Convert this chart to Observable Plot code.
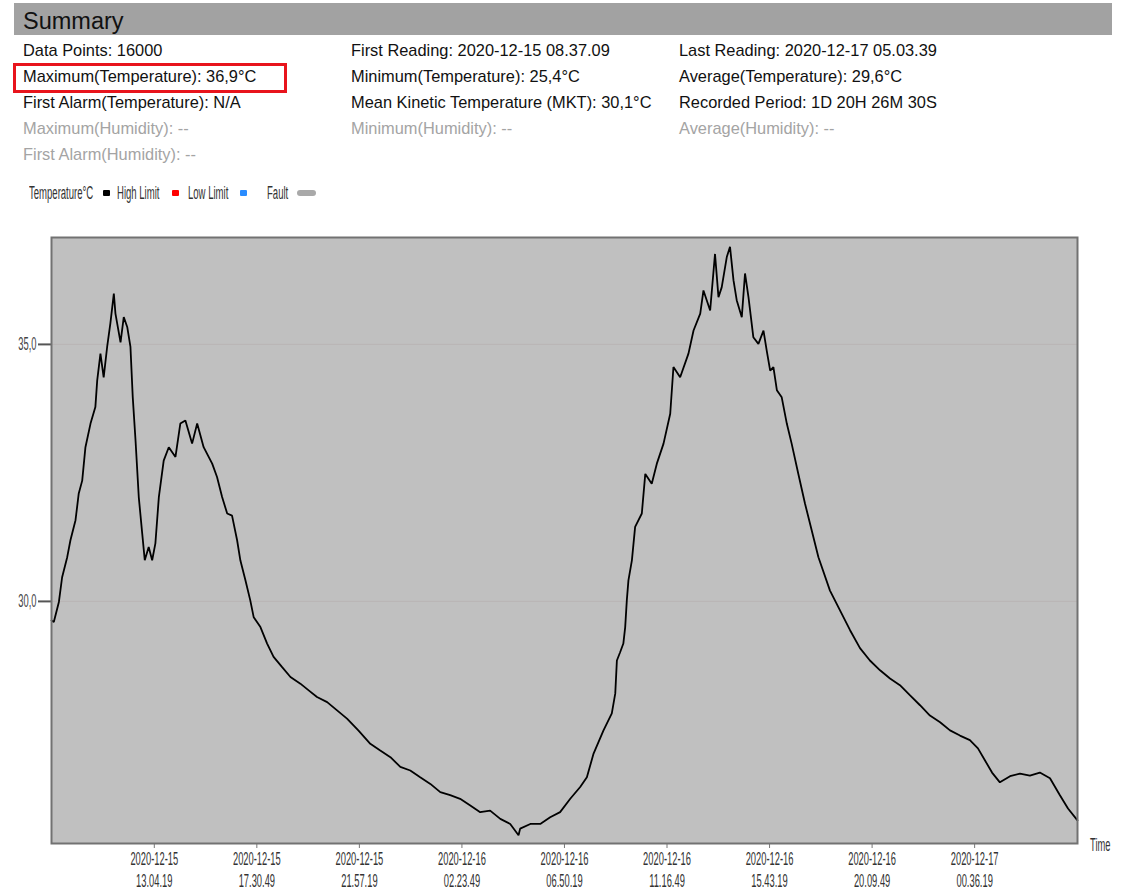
<!DOCTYPE html>
<html>
<head>
<meta charset="utf-8">
<script src="https://cdn.jsdelivr.net/npm/d3@7"></script>
<script src="https://cdn.jsdelivr.net/npm/@observablehq/plot@0.6"></script>
<style>
  html, body { margin: 0; padding: 0; background: #fff; }
  body { width: 1127px; height: 891px; position: relative; overflow: hidden; font-family: "Liberation Sans", Arial, sans-serif; }
  #bar { position: absolute; left: 14px; top: 3px; width: 1098px; height: 32px; background: #a2a2a2; }
  #bar span { position: absolute; left: 9px; top: 5px; font-size: 23.5px; color: #111; }
  .info { position: absolute; font-size: 16.4px; color: #111; white-space: nowrap; line-height: 18px; }
  .info.dim { color: #a4a4a4; }
  #redbox { position: absolute; left: 13px; top: 63px; width: 268px; height: 24px; border: 3px solid #e8141c; }
  .leg { position: absolute; top: 183px; font-size: 18px; line-height: 20px; color: #333; white-space: nowrap; transform: scaleX(0.53); transform-origin: left top; }
  .sw { position: absolute; top: 190px; width: 7px; height: 6px; border-radius: 1px; }
  #chart { position: absolute; left: 0; top: 200px; }
</style>
</head>
<body>
<div id="bar"><span>Summary</span></div>
<div id="info"></div>
<div id="redbox"></div>
<div id="legend"></div>
<div id="chart"></div>
<script>
// ---- data ----
const firstReading = "2020-12-15T08:37:09Z";
const lastReading = "2020-12-17T05:03:39Z";

const infoCol1 = ["Data Points: 16000", "Maximum(Temperature): 36,9°C", "First Alarm(Temperature): N/A", "Maximum(Humidity): --", "First Alarm(Humidity): --"];
const infoCol2 = ["First Reading: 2020-12-15 08.37.09", "Minimum(Temperature): 25,4°C", "Mean Kinetic Temperature (MKT): 30,1°C", "Minimum(Humidity): --"];
const infoCol3 = ["Last Reading: 2020-12-17 05.03.39", "Average(Temperature): 29,6°C", "Recorded Period: 1D 20H 26M 30S", "Average(Humidity): --"];
const dimRows = [3, 4];

const legendItems = ["Temperature°C", "High Limit", "Low Limit", "Fault"];
const legendColors = ["#000000", "#ff0000", "#2a8cff", "#a9a9a9"];

const xTickTimes = ["2020-12-15T13:04:19Z", "2020-12-15T17:30:49Z", "2020-12-15T21:57:19Z", "2020-12-16T02:23:49Z",
  "2020-12-16T06:50:19Z", "2020-12-16T11:16:49Z", "2020-12-16T15:43:19Z", "2020-12-16T20:09:49Z", "2020-12-17T00:36:19Z"];
const yTicks = [30, 35];

// hours elapsed since first reading, and temperature (°C)
const hoursFromStart = [0, 0.10, 0.32, 0.46, 0.68, 0.82, 1.04, 1.18, 1.33, 1.47, 1.69, 1.90, 1.98, 2.12, 2.26, 2.41, 2.55, 2.70, 2.77, 2.99,
  3.13, 3.28, 3.42, 3.52, 3.64, 3.78, 3.93, 4.04, 4.21, 4.36, 4.50, 4.65, 4.86, 5.08, 5.37, 5.58, 5.80, 6.09, 6.31, 6.59,
  6.96, 7.17, 7.39, 7.61, 7.82, 8.04, 8.18, 8.40, 8.61, 8.76, 9.05, 9.34, 9.62, 9.99, 10.35, 10.78, 11.14, 11.50, 11.94, 12.37,
  12.80, 13.29, 13.81, 14.24, 14.68, 15.11, 15.54, 15.97, 16.41, 16.84, 17.27, 17.70, 18.14, 18.57, 19.00, 19.44, 19.87, 20.23, 20.30, 20.74,
  21.17, 21.60, 22.03, 22.47, 22.90, 23.19, 23.48, 23.91, 24.27, 24.42, 24.49, 24.63, 24.77, 24.85, 24.92, 24.99, 25.14, 25.28, 25.57, 25.72,
  26.00, 26.22, 26.51, 26.80, 26.94, 27.23, 27.59, 27.81, 28.10, 28.24, 28.53, 28.74, 28.89, 29.03, 29.25, 29.39, 29.54, 29.68, 29.90, 30.04,
  30.19, 30.40, 30.62, 30.84, 30.98, 31.13, 31.27, 31.42, 31.63, 31.85, 32.06, 32.35, 32.64, 32.93, 33.22, 33.72, 34.16, 34.59, 35.02, 35.45,
  35.89, 36.32, 36.75, 37.19, 37.62, 38.05, 38.49, 38.92, 39.35, 39.78, 40.13, 40.43, 40.74, 41.08, 41.52, 41.95, 42.38, 42.81, 43.25, 43.68,
  44.03, 44.44];
const temperature = [29.63, 29.60, 29.99, 30.47, 30.86, 31.19, 31.58, 32.10, 32.35, 33.00, 33.46, 33.78, 34.30, 34.82, 34.36, 34.95, 35.41, 35.99, 35.60, 35.04,
  35.53, 35.34, 34.95, 33.97, 33.13, 32.03, 31.32, 30.80, 31.06, 30.80, 31.13, 32.03, 32.74, 33.00, 32.81, 33.46, 33.52, 33.07, 33.46, 33.00,
  32.68, 32.42, 32.03, 31.71, 31.67, 31.19, 30.80, 30.41, 30.02, 29.69, 29.50, 29.18, 28.92, 28.72, 28.53, 28.40, 28.27, 28.14, 28.04, 27.88,
  27.72, 27.49, 27.23, 27.10, 26.97, 26.78, 26.71, 26.58, 26.45, 26.29, 26.23, 26.16, 26.03, 25.90, 25.93, 25.77, 25.67, 25.45, 25.58, 25.67,
  25.67, 25.80, 25.90, 26.16, 26.39, 26.58, 27.04, 27.49, 27.82, 28.21, 28.85, 29.01, 29.18, 29.50, 30.02, 30.41, 30.80, 31.45, 31.71, 32.48,
  32.29, 32.68, 33.07, 33.65, 34.56, 34.36, 34.82, 35.27, 35.60, 36.05, 35.66, 36.76, 35.92, 36.11, 36.70, 36.90, 36.25, 35.86, 35.53, 36.38,
  35.92, 35.14, 35.01, 35.27, 34.88, 34.49, 34.56, 34.11, 33.97, 33.46, 33.07, 32.48, 31.90, 31.38, 30.86, 30.21, 29.82, 29.44, 29.09, 28.85,
  28.66, 28.50, 28.37, 28.17, 27.98, 27.78, 27.65, 27.49, 27.39, 27.30, 27.14, 26.91, 26.67, 26.48, 26.60, 26.65, 26.61, 26.67, 26.56, 26.23,
  25.97, 25.74];

// ---- header text ----
const info = document.getElementById("info");
const colX = [23, 351, 679];
const rowY = [41, 67, 93, 119, 145];
[infoCol1, infoCol2, infoCol3].forEach((col, ci) => {
  col.forEach((t, ri) => {
    const d = document.createElement("div");
    d.className = "info" + (dimRows.includes(ri) ? " dim" : "");
    d.style.left = colX[ci] + "px";
    d.style.top = rowY[ri] + "px";
    d.textContent = t;
    info.appendChild(d);
  });
});

// ---- legend ----
const legend = document.getElementById("legend");
const legTextX = [29, 117, 188, 267];
const legSwX = [103, 172, 240, 297];
legendItems.forEach((t, i) => {
  const s = document.createElement("div");
  s.className = "leg";
  s.style.left = legTextX[i] + "px";
  s.textContent = t;
  legend.appendChild(s);
  const sw = document.createElement("div");
  sw.className = "sw";
  sw.style.left = legSwX[i] + "px";
  sw.style.background = legendColors[i];
  if (i === 3) { sw.style.width = "19px"; sw.style.height = "6px"; sw.style.borderRadius = "4px"; }
  legend.appendChild(sw);
});

// ---- chart ----
const t0 = new Date(firstReading);
const data = hoursFromStart.map((h, i) => ({ time: new Date(+t0 + h * 3600e3), temp: temperature[i] }));
const fmt = d3.utcFormat("%Y-%m-%d\n%H.%M.%S");

const chart = Plot.plot({
  width: 1127,
  height: 691,
  marginLeft: 51,
  marginRight: 50,
  marginTop: 37,
  marginBottom: 48,
  style: { fontFamily: "'Liberation Sans', Arial, sans-serif", fontSize: "18px", color: "#444", background: "transparent" },
  x: { type: "utc", domain: [new Date(firstReading), new Date(lastReading)] },
  y: { domain: [25.29, 37.08] },
  marks: [
    Plot.frame({ fill: "#c0c0c0", stroke: "none" }),
    Plot.ruleY(yTicks, { stroke: "#b9b5b5", strokeWidth: 1 }),
    Plot.axisY({ ticks: yTicks, tickFormat: d => d.toFixed(1).replace(".", ","), tickSize: 13, tickPadding: 2, label: null, stroke: "#555", strokeWidth: 2, fill: "#444", fontSize: 18 }),
    Plot.axisX({ ticks: xTickTimes.map(s => new Date(s)), tickFormat: fmt, tickSize: 5, tickPadding: 1, label: null, stroke: "#777", fill: "#333", fontSize: 18, lineHeight: 1.22 }),
    Plot.line(data, { x: "time", y: "temp", stroke: "#000", strokeWidth: 1.8, strokeLinejoin: "miter" }),
    Plot.frame({ stroke: "#727272", strokeWidth: 2 }),
    Plot.text(["Time"], { frameAnchor: "bottom-right", dx: 33, dy: 7, fill: "#333", fontSize: 18 })
  ]
});
document.getElementById("chart").appendChild(chart);

// condense the tick labels like the original
chart.querySelectorAll("[aria-label^='y-axis tick label'] text, [aria-label^='x-axis tick label'] text, [aria-label='text'] text").forEach(t => {
  const tr = t.getAttribute("transform") || "";
  t.setAttribute("transform", tr + " scale(0.52,1)");
});
</script>
</body>
</html>
